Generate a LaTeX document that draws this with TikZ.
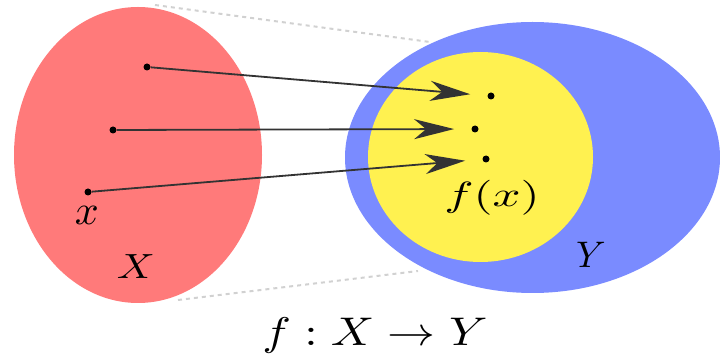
\documentclass[tikz,border=0pt]{standalone}
\usepackage{tikz}
\usetikzlibrary{arrows.meta}
\tikzset{every picture/.style={line width=0.75pt}}
\definecolor{corX}{RGB}{255,122,122}
\definecolor{corY}{RGB}{122,139,255}
\definecolor{corImg}{RGB}{255,241,80}

\begin{document}
\begin{tikzpicture}[x=1pt, y=-1pt, >={Stealth[length=40pt, width=20pt, inset=12pt]},
    ponto/.style={circle, fill=black, inner sep=0pt, minimum size=7pt},
    seta/.style={->, line width=1.8pt, draw=black!80, shorten >=17pt},
    guia/.style={draw=black!18, line width=2pt, dash pattern=on 4pt off 4pt},
    rotulo/.style={anchor=base, inner sep=0pt}]
    \useasboundingbox (0,0) rectangle (720,355);
    % linhas pontilhadas entre os conjuntos
    \coordinate (g1) at (155,5);
    \coordinate (g2) at (430,42);
    \coordinate (g3) at (178,300);
    \coordinate (g4) at (418,271);
    \draw[guia] (g1) -- (g2);
    \draw[guia] (g3) -- (g4);
    % conjuntos Y, f(X) e X
    \fill[corY] (532.5,157.5) ellipse [x radius=187.5pt, y radius=135.5pt];
    \fill[corImg] (480.5,157) ellipse [x radius=112.5pt, y radius=105pt];
    \fill[corX] (138,155) ellipse [x radius=124pt, y radius=148pt];
    % pontos
    \node[ponto] (a1) at (147,67) {};
    \node[ponto] (a2) at (113,130) {};
    \node[ponto] (a3) at (88,192) {};
    \node[ponto] (b1) at (491,96) {};
    \node[ponto] (b2) at (475,129) {};
    \node[ponto] (b3) at (486,159) {};
    % setas
    \draw[seta] (a1) -- (b1);
    \draw[seta] (a2) -- (b2);
    \draw[seta] (a3) -- (b3);
    % rótulos
    \node[rotulo, scale=4.2] (lx) at (87,225) {$x$};
    \node[rotulo, xscale=4.2, yscale=3.5] (lX) at (136,279) {$X$};
    \node[rotulo, scale=3.7] (lY) at (591,268) {$Y$};
    \node[rotulo, xscale=4.9, yscale=3.5] (lfx) at (492,207) {$f(x)$};
    \node[rotulo, xscale=4.8, yscale=4.0] (lf) at (375,345) {$f : X \to Y$};
\end{tikzpicture}
\end{document}
